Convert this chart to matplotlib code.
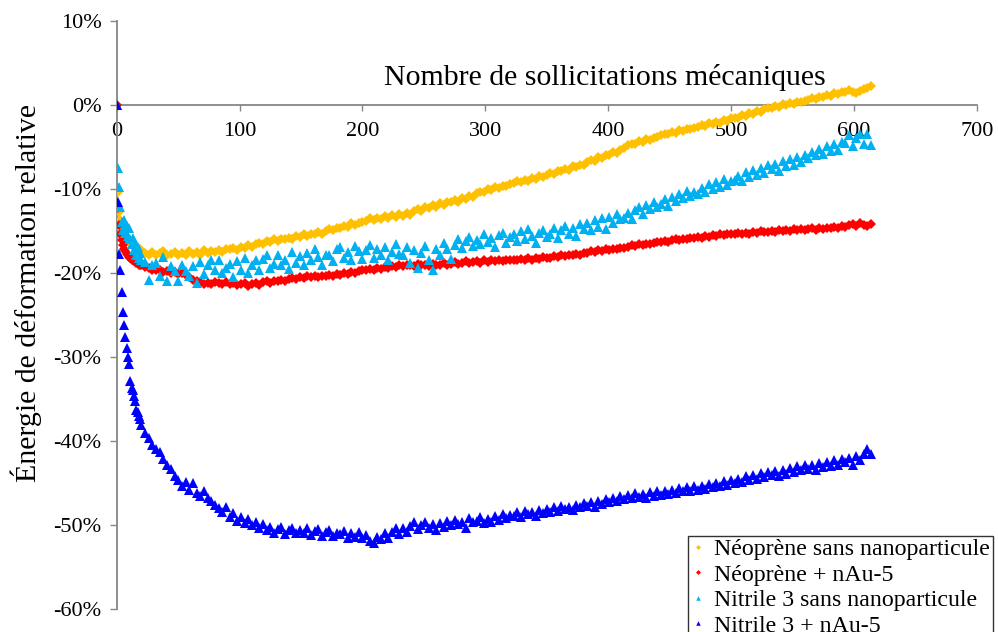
import matplotlib
matplotlib.use("Agg")
import matplotlib.pyplot as plt
from matplotlib.ticker import FuncFormatter, MultipleLocator

plt.rcParams['font.family'] = ['Liberation Serif', 'DejaVu Serif']

# number of mechanical cycles: every cycle at the start, then every third one
cycles = list(range(0, 21)) + list(range(23, 615, 3))

# relative deformation energy, in percent
neoprene = [
    0, -10.4, -12.7, -13.7, -14.5, -15.1, -15.4, -15.5, -15.9, -16.0, -16.3,
    -16.2, -16.6, -16.8, -16.7, -17.0, -17.1, -17.0, -17.3, -17.2, -17.5,
    -17.6, -17.8, -17.5, -17.9, -17.6, -17.4, -17.8, -17.7, -17.5, -17.9,
    -17.6, -17.8, -17.4, -17.7, -17.5, -17.8, -17.3, -17.6, -17.4, -17.5,
    -17.3, -17.5, -17.1, -17.2, -17.0, -17.3, -16.9, -17.0, -16.7, -16.9,
    -16.6, -16.4, -16.5, -16.2, -16.3, -16.0, -16.2, -15.9, -16.0, -15.8,
    -15.9, -15.6, -15.7, -15.4, -15.6, -15.3, -15.4, -15.1, -15.3, -15.0,
    -14.8, -14.9, -14.6, -14.7, -14.4, -14.5, -14.1, -14.3, -14.0, -13.9,
    -13.8, -13.5, -13.7, -13.4, -13.6, -13.2, -13.4, -13.1, -13.3, -13.0,
    -13.2, -12.8, -13.1, -12.6, -12.4, -12.6, -12.2, -12.3, -11.9, -12.1,
    -11.7, -11.9, -11.5, -11.6, -11.3, -11.5, -11.1, -11.2, -10.8, -11.0,
    -10.5, -10.3, -10.4, -10.0, -10.1, -9.8, -9.9, -9.6, -9.7, -9.4,
    -9.3, -9.1, -9.2, -8.9, -9.0, -8.7, -8.8, -8.5, -8.6, -8.3,
    -8.1, -8.2, -7.8, -7.9, -7.6, -7.7, -7.3, -7.4, -7.1, -7.2,
    -6.8, -6.6, -6.7, -6.2, -6.3, -6.0, -5.9, -5.6, -5.7, -5.3,
    -5.1, -4.8, -4.6, -4.7, -4.3, -4.4, -4.1, -4.2, -3.9, -3.8,
    -3.6, -3.4, -3.5, -3.2, -3.3, -3.0, -3.1, -2.8, -2.9, -2.7,
    -2.6, -2.4, -2.5, -2.2, -2.3, -2.0, -2.1, -1.8, -1.9, -1.6,
    -1.5, -1.6, -1.2, -1.3, -1.0, -1.1, -0.7, -0.8, -0.5, -0.4,
    -0.3, -0.1, -0.2, 0.1, 0.0, 0.2, 0.1, 0.4, 0.3, 0.5,
    0.6, 0.8, 0.7, 1.0, 0.9, 1.2, 1.1, 1.4, 1.3, 1.6,
    1.5, 1.8, 1.6, 1.4, 1.7, 1.9, 2.0, 2.3,
]

neoprene_nau = [
    0, -12.3, -14.3, -15.3, -16.1, -16.7, -17.1, -17.4, -17.7, -17.9, -18.1,
    -18.2, -18.4, -18.4, -18.6, -18.6, -18.8, -18.8, -19.0, -19.0, -19.1,
    -19.3, -19.4, -19.6, -19.6, -19.7, -19.9, -19.8, -20.0, -19.9, -20.1,
    -20.0, -20.2, -20.5, -20.8, -21.0, -21.1, -21.3, -21.2, -21.3, -21.1,
    -21.2, -21.3, -21.1, -21.3, -21.2, -21.4, -21.3, -21.2, -21.5, -21.3,
    -21.2, -21.4, -21.1, -21.0, -21.2, -20.9, -21.0, -20.8, -20.9, -20.7,
    -20.6, -20.7, -20.5, -20.6, -20.4, -20.5, -20.3, -20.5, -20.3, -20.4,
    -20.2, -20.3, -20.1, -20.2, -20.0, -20.1, -19.9, -20.0, -19.8, -19.7,
    -19.7, -19.5, -19.6, -19.4, -19.5, -19.3, -19.4, -19.2, -19.3, -19.1,
    -19.2, -19.0, -19.1, -19.2, -18.9, -19.1, -19.0, -19.2, -18.9, -19.0,
    -19.0, -18.8, -19.0, -18.9, -18.7, -18.9, -18.8, -18.6, -18.8, -18.7,
    -18.6, -18.8, -18.5, -18.7, -18.5, -18.6, -18.4, -18.6, -18.4, -18.5,
    -18.4, -18.5, -18.3, -18.4, -18.2, -18.4, -18.2, -18.3, -18.1, -18.2,
    -18.2, -18.0, -18.1, -17.9, -18.0, -17.8, -17.9, -17.7, -17.8, -17.6,
    -17.6, -17.4, -17.5, -17.3, -17.4, -17.2, -17.3, -17.1, -17.2, -17.0,
    -17.0, -16.9, -16.7, -16.8, -16.6, -16.7, -16.5, -16.6, -16.4, -16.3,
    -16.3, -16.2, -16.3, -16.1, -16.0, -16.1, -15.9, -16.0, -15.8, -15.8,
    -15.7, -15.8, -15.6, -15.7, -15.5, -15.6, -15.4, -15.5, -15.3, -15.4,
    -15.3, -15.2, -15.4, -15.2, -15.3, -15.1, -15.2, -15.0, -15.1, -15.1,
    -15.0, -15.1, -14.9, -15.0, -14.9, -15.0, -14.8, -14.9, -14.8, -14.9,
    -14.8, -14.7, -14.9, -14.7, -14.8, -14.6, -14.7, -14.5, -14.6, -14.4,
    -14.5, -14.3, -14.2, -14.4, -14.1, -14.3, -14.4, -14.2,
]

nitrile = [
    0, -7.5, -9.8, -12.1, -13.9, -14.9, -13.7, -15.2, -14.4, -15.6, -14.7,
    -15.9, -16.5, -15.8, -17.3, -16.6, -17.9, -16.9, -18.2, -17.6, -18.5,
    -18.7, -20.8, -19.0, -18.8, -20.4, -18.1, -21.0, -19.2, -19.8, -21.0,
    -19.0, -19.8, -20.3, -19.2, -21.2, -18.7, -20.1, -19.0, -18.5, -19.6,
    -18.4, -20.0, -19.4, -18.9, -20.5, -18.6, -19.7, -18.2, -20.0, -19.1,
    -18.5, -19.6, -18.3, -17.8, -19.4, -18.9, -17.9, -19.0, -18.4, -19.5,
    -17.5, -18.8, -18.0, -19.1, -17.6, -18.4, -17.2, -18.1, -19.0, -17.8,
    -17.9, -18.6, -17.2, -16.9, -18.2, -17.5, -18.5, -16.8, -17.4, -18.3,
    -17.3, -16.7, -18.2, -17.1, -17.9, -16.9, -18.4, -17.5, -16.6, -17.7,
    -17.9, -16.9, -18.8, -17.3, -19.4, -17.6, -16.8, -18.5, -19.6, -17.2,
    -17.8, -16.4, -17.2, -18.3, -16.7, -15.9, -17.0, -16.2, -15.7, -16.8,
    -16.1, -16.5, -15.4, -16.3, -15.8, -16.9, -15.5, -15.2, -16.4, -15.7,
    -15.3, -16.2, -15.0, -15.9, -14.8, -15.6, -16.4, -15.2, -14.9, -15.7,
    -15.4, -14.7, -15.8, -14.9, -14.4, -15.3, -14.6, -15.6, -14.2, -14.8,
    -14.0, -14.9, -13.7, -14.5, -13.5, -14.8, -13.3, -14.1, -13.0, -13.6,
    -13.4, -12.8, -13.6, -12.5, -12.2, -13.0, -11.9, -12.4, -11.6, -12.2,
    -11.8, -11.2, -12.0, -10.9, -11.4, -10.6, -11.1, -10.2, -10.8, -10.4,
    -10.6, -9.9, -10.3, -9.4, -10.0, -9.2, -9.8, -8.8, -9.5, -9.0,
    -8.9, -8.4, -9.1, -8.0, -8.6, -7.7, -8.3, -7.5, -8.1, -7.2,
    -7.6, -7.0, -7.8, -6.7, -7.3, -6.4, -7.1, -6.2, -6.8, -5.9,
    -6.3, -5.6, -6.0, -5.2, -5.8, -4.9, -5.5, -4.6, -5.3, -4.4,
    -4.5, -3.6, -4.9, -3.9, -3.4, -4.6, -3.5, -4.8,
]

nitrile_nau = [
    0, -11.5, -17.7, -19.6, -22.3, -24.6, -26.2, -27.6, -28.9, -30.0, -30.8,
    -32.8, -33.7, -33.9, -34.6, -35.2, -36.3, -36.6, -37.0, -37.4, -38.1,
    -39.0, -39.6, -40.5, -41.0, -41.3, -42.2, -42.9, -43.3, -44.2, -44.6,
    -45.4, -44.9, -45.8, -45.0, -46.2, -46.5, -45.9, -46.8, -47.1, -47.6,
    -48.0, -48.5, -47.8, -49.1, -48.6, -49.5, -49.0, -49.8, -49.3, -50.0,
    -49.7, -50.3, -49.9, -50.6, -50.2, -51.0, -50.5, -50.2, -51.1, -50.6,
    -50.4, -51.0, -50.6, -50.9, -50.3, -51.2, -50.7, -50.5, -51.3, -50.8,
    -50.6, -51.3, -50.9, -51.1, -50.7, -51.5, -51.0, -51.4, -50.8, -51.6,
    -51.2, -51.9, -52.2, -51.4, -51.7, -50.9, -51.5, -50.8, -50.4, -51.1,
    -50.3, -50.8, -50.1, -49.7, -50.5, -50.0, -49.6, -50.3, -49.9, -50.6,
    -49.8, -50.2, -49.5, -50.0, -49.4, -49.9, -49.6, -50.3, -49.2, -49.7,
    -49.5, -49.1, -49.8, -49.3, -49.6, -48.9, -49.4, -48.7, -49.2, -48.8,
    -48.9, -48.5, -49.0, -48.3, -48.7, -48.4, -48.9, -48.2, -48.6, -48.1,
    -48.4, -47.9, -48.3, -47.7, -48.1, -47.8, -48.2, -47.6, -47.9, -47.4,
    -47.7, -47.3, -47.8, -47.1, -47.5, -46.9, -47.3, -46.8, -47.2, -46.6,
    -46.9, -46.4, -46.8, -46.2, -46.7, -46.3, -46.8, -46.1, -46.5, -46.0,
    -46.4, -45.9, -46.3, -45.8, -46.2, -45.6, -46.0, -45.5, -45.9, -45.4,
    -45.8, -45.3, -45.7, -45.1, -45.5, -45.0, -45.4, -44.8, -45.2, -44.7,
    -45.0, -44.5, -44.9, -44.2, -44.7, -44.0, -44.5, -43.8, -44.3, -43.7,
    -44.0, -43.6, -44.2, -43.4, -43.9, -43.2, -43.7, -43.0, -43.5, -42.9,
    -43.3, -42.8, -43.4, -42.6, -43.1, -42.5, -43.0, -42.3, -42.8, -42.2,
    -42.5, -42.0, -42.8, -41.8, -42.3, -41.5, -41.0, -41.6,
]

labels = ["Néoprène sans nanoparticule", "Néoprène + nAu-5",
          "Nitrile 3 sans nanoparticule", "Nitrile 3 + nAu-5"]
colors = ["#FFC000", "#FF0000", "#00B0F0", "#0000FF"]
markers = ["D", "D", "^", "^"]
sizes = [5, 5, 6.5, 6.5]

fig = plt.figure(figsize=(9.98, 6.32), dpi=100)
ax = fig.add_axes([0.117, 0.0364, 0.8617, 0.9304])

series = [neoprene, neoprene_nau, nitrile, nitrile_nau]
for i, vals in enumerate(series):
    ax.plot(cycles, vals, linestyle="none", marker=markers[i], ms=sizes[i],
            color=colors[i], markeredgewidth=0, label=labels[i], zorder=3 + i)

ax.set_xlim(0, 700)
ax.set_ylim(-60, 10)
ax.xaxis.set_major_locator(MultipleLocator(100))
ax.yaxis.set_major_locator(MultipleLocator(10))
ax.yaxis.set_major_formatter(FuncFormatter(lambda v, p: "%d%%" % round(v)))

# axes cross at the origin, the x axis runs along 0 %
ax.spines["bottom"].set_position(("data", 0))
ax.spines["top"].set_visible(False)
ax.spines["right"].set_visible(False)
for s in ("left", "bottom"):
    ax.spines[s].set_color("#868686")
    ax.spines[s].set_linewidth(1.3)
ax.tick_params(axis="x", direction="out", length=4, width=1, color="#868686",
               labelsize=16, pad=8)
ax.tick_params(axis="y", direction="out", length=5, width=1, color="#868686",
               labelsize=16, pad=6)

fig.text(0.606, 0.877, "Nombre de sollicitations mécaniques", fontsize=21.5,
         ha="center", va="center")
fig.text(0.026, 0.536, "Énergie de déformation relative", fontsize=21.5,
         rotation=90, ha="center", va="center")

leg = ax.legend(loc="upper left", bbox_to_anchor=(688 / 998, 1 - 536 / 632),
                bbox_transform=fig.transFigure, fontsize=17.2, frameon=True,
                fancybox=False, edgecolor="black", borderpad=0.1,
                labelspacing=0.16, handlelength=0.6, handletextpad=0.4,
                borderaxespad=0, markerscale=0.5)
leg.get_frame().set_linewidth(1.0)

fig.savefig("out.png", dpi=100)
